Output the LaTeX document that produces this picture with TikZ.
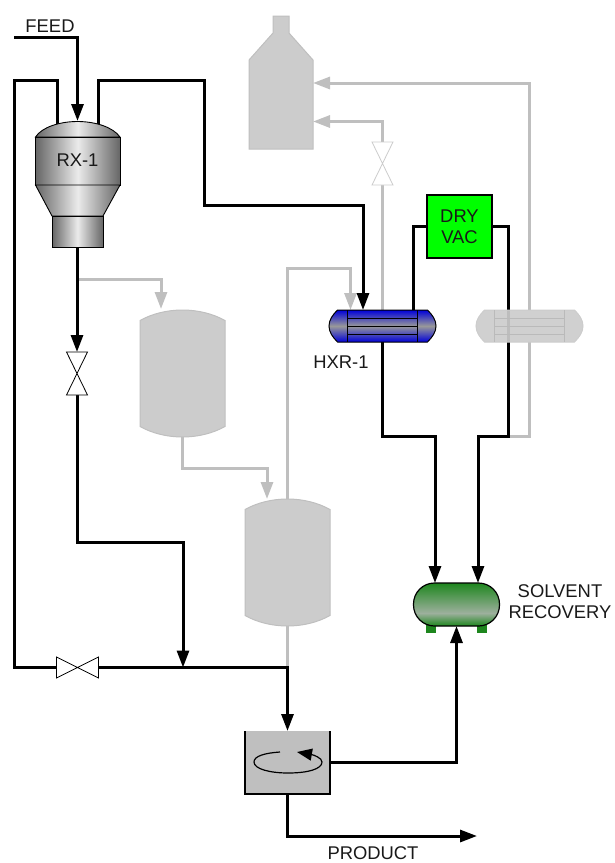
\documentclass[tikz,border=0pt]{standalone}
\usepackage{fontspec}
\setmainfont{Liberation Sans}
\usetikzlibrary{arrows.meta}
\definecolor{sumplight}{HTML}{9DB09D}
\definecolor{sumpdark}{HTML}{1E861E}
\pgfdeclareverticalshading{sumpshade}{100bp}{
    color(0bp)=(sumpdark);
    color(25bp)=(sumpdark);
    color(40bp)=(sumplight);
    color(75bp)=(sumpdark);
    color(100bp)=(sumpdark)}

\begin{document}
\begin{tikzpicture}[
        x=1pt, y=-1pt,
        unit/.style={
            inner sep=0pt,
            outer sep=0pt
        },
        tag/.style={
            font=\fontsize{18.4}{21}\selectfont,
            align=center,
            text=black!90
        },
        pipe/.style={
            >={Triangle[length=17pt,width=12pt]},
            line width=3pt,
            black
        },
        graypipe/.style={
            pipe,
            black!25
        },
        metal/.style={
            left color=black!60,
            right color=black!60,
            middle color=black!8,
            draw=black,
            line width=0.9pt
        },
        tankbody/.style={
            fill=black!20,
            draw=black!25,
            line width=1pt
        },
        valvebody/.style={
            fill=white,
            draw=black,
            line width=0.8pt
        },
        hxrhot/.style={
            top color=blue!85!black,
            bottom color=blue!85!black,
            middle color=black!40,
            draw=black
        },
        hxrghost/.style={
            fill=black!20,
            fill opacity=0.93,
            draw=black!20
        }
    ]
    \useasboundingbox (0,0) rectangle (615,863);

    \node[unit, minimum width=85pt, minimum height=126pt] (rx) at (77.5,184) {};
    \node[unit, minimum width=64pt, minimum height=133pt] (bottle) at (281,82.5) {};
    \node[unit, minimum width=85pt, minimum height=127pt] (tankA) at (182.5,373.5) {};
    \node[unit, minimum width=85pt, minimum height=127pt] (tankB) at (287.5,562.5) {};
    \node[unit, minimum width=107pt, minimum height=32pt] (hxrA) at (382.5,326) {};
    \node[unit, minimum width=107pt, minimum height=32pt] (hxrB) at (529.5,326) {};
    \node[unit, minimum width=86pt, minimum height=43pt] (sump) at (456.5,604.5) {};
    \node[unit, minimum width=85pt, minimum height=63pt] (mixer) at (287.5,762.5) {};
    \node[unit, minimum width=21pt, minimum height=43pt] (valveA) at (77,373.5) {};
    \node[unit, minimum width=21pt, minimum height=43pt] (valveB) at (382.5,163.5) {};
    \node[unit, minimum width=42pt, minimum height=21pt] (valveC) at (77.5,667.5) {};

    \coordinate (feedin) at (14,37);
    \coordinate (rxoutA) at (57,124);
    \coordinate (rxoutB) at (98,124);
    \coordinate (recycle) at (14,80);
    \coordinate (bendA) at (183,542);
    \coordinate (joinA) at (183,667.5);
    \coordinate (bendB) at (204,80);
    \coordinate (bendC) at (204,205);
    \coordinate (hxrAhot) at (363,310);
    \coordinate (hxrAcold) at (350.5,310);
    \coordinate (hxrAvac) at (413,310);
    \coordinate (vacjoin) at (508,436);
    \coordinate (hxrAjoin) at (382.5,436);
    \coordinate (sumpinA) at (435,583);
    \coordinate (sumpinB) at (478,583);
    \coordinate (rxtap) at (77,279);
    \coordinate (tankAin) at (161,309);
    \coordinate (tankAbend) at (182.5,468);
    \coordinate (tankBin) at (267,499);
    \coordinate (tankBbend) at (287.5,268);
    \coordinate (tankBdrop) at (287.5,667.5);
    \coordinate (bottleinA) at (313,83);
    \coordinate (bottleinB) at (313,121.5);
    \coordinate (productend) at (477,836);

    \draw[graypipe, ->] (rxtap) -| (tankAin);
    \draw[graypipe, ->] (tankA.south) |- (tankAbend) -| (tankBin);
    \draw[graypipe, ->] (tankB.north) |- (tankBbend) -| (hxrAcold);
    \draw[graypipe] (tankB.south) -- (tankBdrop);
    \draw[graypipe] (hxrA.north) -- (valveB.south);
    \draw[graypipe, ->] (valveB.north) |- (bottleinB);
    \draw[graypipe, ->] (hxrB.north) |- (bottleinA);
    \draw[graypipe] (hxrB.south) |- (vacjoin);

    \draw[pipe, ->] (feedin) -| (rx.north);
    \draw[pipe] (rxoutA) |- (recycle) |- (valveC.west);
    \draw[pipe, ->] (valveC.east) -| (mixer.north);
    \draw[pipe, ->] (rxoutB) |- (bendB) -- (bendC) -| (hxrAhot);
    \draw[pipe, ->] (rx.south -| valveA) -- (valveA.north);
    \draw[pipe, ->] (valveA.south) |- (bendA) -- (joinA);
    \draw[pipe, ->] (hxrA.south) |- (hxrAjoin) -| (sumpinA);
    \draw[pipe, ->] (mixer.east) -| (sump.south);
    \draw[pipe, ->] (mixer.south) |- (productend);

    \node[unit, draw=black, line width=1.2pt, fill=green, minimum width=65pt, minimum height=63pt, tag] (dryvac) at (459.5,226.5) {DRY\\VAC};
    \draw[pipe] (dryvac.west) -| (hxrAvac);
    \draw[pipe, ->] (dryvac.east) -| (vacjoin) -| (sumpinB);

    \path[metal] (35.5,137) .. controls (42,127) and (60,121.5) .. (77.5,121.5) .. controls (95,121.5) and (113,127) .. (120,137) -- cycle;
    \path[metal] (35.5,137) rectangle (120,185);
    \path[metal] (35.5,185) -- (52,216) -- (103,216) -- (120,185) -- cycle;
    \path[metal] (52,216) rectangle (103,247);

    \path[tankbody] (bottle.south west) -- (bottle.west |- 0,60) -- (273,33) -- (273,16) -- (289,16) -- (289,33) -- (bottle.east |- 0,60) -- (bottle.south east) -- cycle;

    \foreach \name in {tankA,tankB} {
        \begin{scope}[shift={(\name.center)}]
            \path[tankbody] (-42.5,-53) .. controls (-30,-60) and (-15,-63.5) .. (0,-63.5) .. controls (15,-63.5) and (30,-60) .. (42.5,-53) -- (42.5,53) .. controls (30,60) and (15,63.5) .. (0,63.5) .. controls (-15,63.5) and (-30,60) .. (-42.5,53) -- cycle;
        \end{scope}
    }

    \foreach \name/\body/\tube in {hxrA/hxrhot/black, hxrB/hxrghost/black!27} {
        \begin{scope}[shift={(\name.center)}, line width=1pt]
            \path[\body] (-45,-16) -- (45,-16) .. controls (50,-11) and (53.5,-6) .. (53.5,0) .. controls (53.5,6) and (50,11) .. (45,16) -- (-45,16) .. controls (-50,11) and (-53.5,6) .. (-53.5,0) .. controls (-53.5,-6) and (-50,-11) .. (-45,-16) -- cycle;
            \draw[\tube] (-35.5,-16) -- (-35.5,16);
            \draw[\tube] (35,-16) -- (35,16);
            \foreach \y in {-8,0,8} {
                \draw[\tube] (-35.5,\y) -- (35,\y);
            }
        \end{scope}
    }

    \fill[sumpdark] (426,624) rectangle (436,633);
    \fill[sumpdark] (477,624) rectangle (487,633);
    \path[shading=sumpshade, draw=black, line width=1.2pt, rounded corners=21pt] (sump.north west) rectangle (sump.south east);

    \fill[black!25] (mixer.north west) rectangle (mixer.south east);
    \draw[black, line width=1.2pt] (mixer.north west) -- (mixer.south west) -- (mixer.south east) -- (mixer.north east);
    \draw[line width=1.2pt, -{Triangle[length=15pt,width=12pt]}] (280,752) .. controls (265,753) and (254,756) .. (254,762) .. controls (254,769) and (270,773) .. (288,773) .. controls (308,773) and (322,769) .. (322,762) .. controls (322,758) and (314,755) .. (297,752);

    \draw[valvebody] (valveA.north west) -- (valveA.north east) -- (valveA.south west) -- (valveA.south east) -- cycle;
    \draw[valvebody, draw=black!20] (valveB.north west) -- (valveB.north east) -- (valveB.south west) -- (valveB.south east) -- cycle;
    \draw[valvebody] (valveC.north west) -- (valveC.south west) -- (valveC.north east) -- (valveC.south east) -- cycle;

    \node[tag] (feedtag) at (50,26) {FEED};
    \node[tag] (rxtag) at (77.5,160) {RX-1};
    \node[tag] (hxrtag) at (341,362) {HXR-1};
    \node[tag] (sumptag) at (560,602) {SOLVENT\\RECOVERY};
    \node[tag] (producttag) at (373,853.5) {PRODUCT};
\end{tikzpicture}
\end{document}
